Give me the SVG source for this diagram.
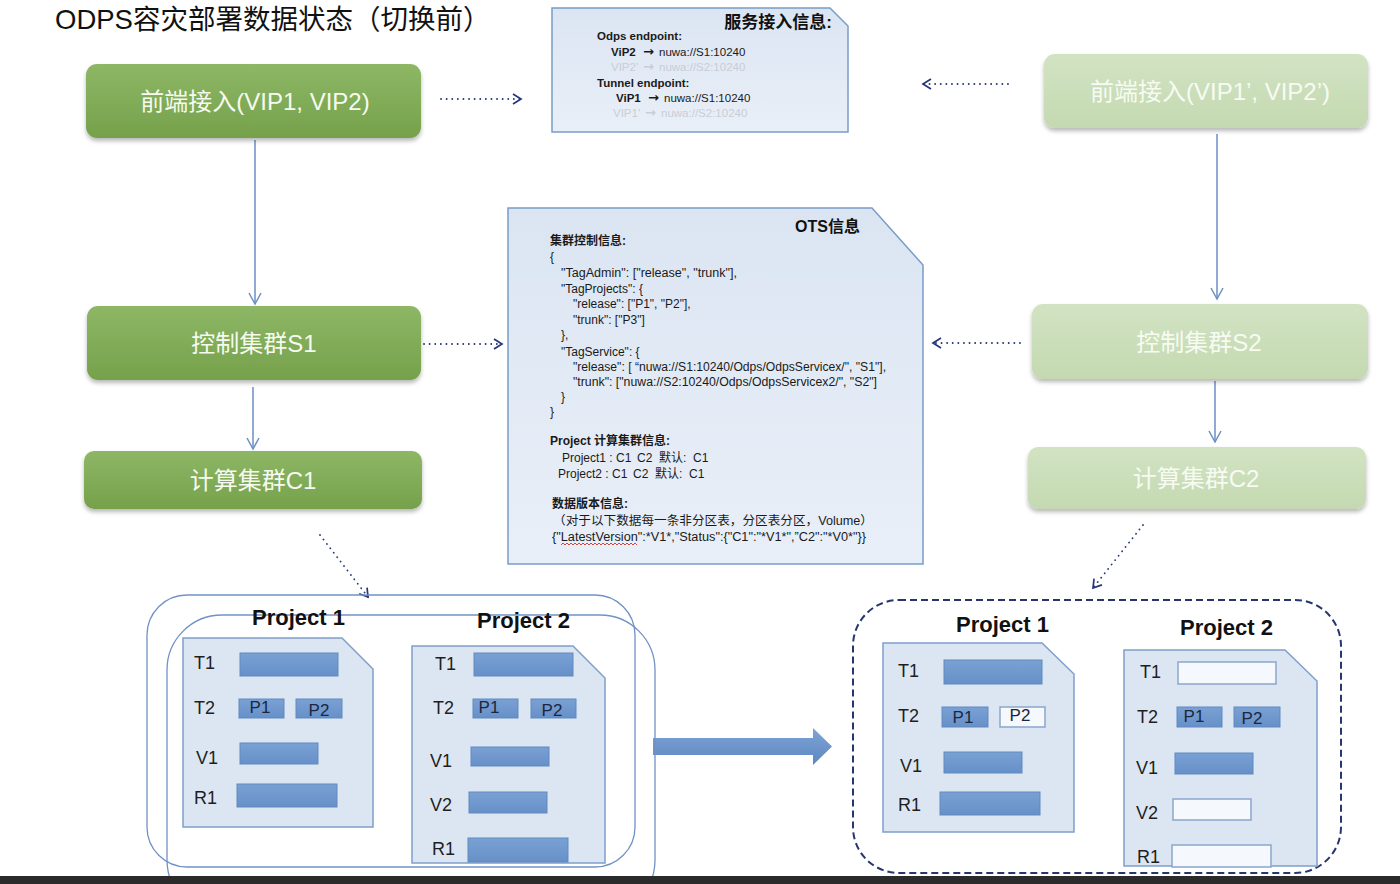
<svg xmlns="http://www.w3.org/2000/svg" width="1400" height="884" viewBox="0 0 1400 884">
<defs>
<style>
.t{font-family:"Liberation Sans","Noto Sans CJK SC",sans-serif}
.title{font-size:27.5px;fill:#111}
.nd{font-size:24px;fill:#f6faf0;text-anchor:middle}
.ndl{font-size:24px;fill:#f7fbf2;text-anchor:middle}
.b{font-weight:bold}
.ar{font-family:"DejaVu Sans",sans-serif;font-size:13px;font-weight:bold}
.s11{font-size:11.5px;fill:#1a1a1a}
.faint{font-size:11.5px;fill:#c9cdd6}
.j{font-size:12px;fill:#1a1a1a}
.lbl{font-size:18px;fill:#1e1e1e}
.pl{font-size:17px;fill:#1b2740;text-anchor:middle}
.pj{font-size:22px;font-weight:bold;fill:#111}
.doc{fill:#dce6f2;stroke:#7f9fca;stroke-width:1.5}
.bar{fill:url(#gBar);stroke:#6089bf;stroke-width:1}
.empty{fill:#f5f8fc;stroke:#8aa6cc;stroke-width:1.5}
.solid{stroke:#6b8fc4;stroke-width:1.5;fill:none}
.dot{stroke:#26357a;stroke-width:1.8;fill:none;stroke-dasharray:0.1 5.5;stroke-linecap:round}
</style>
<linearGradient id="gGreen" x1="0" y1="0" x2="0" y2="1"><stop offset="0" stop-color="#8db765"/><stop offset="1" stop-color="#76a14b"/></linearGradient>
<linearGradient id="gPale" x1="0" y1="0" x2="0" y2="1"><stop offset="0" stop-color="#d2e3c3"/><stop offset="1" stop-color="#c4d9b1"/></linearGradient>
<linearGradient id="gBox" x1="0" y1="0" x2="0" y2="1"><stop offset="0" stop-color="#dbe5f2"/><stop offset="1" stop-color="#e9eff8"/></linearGradient>
<linearGradient id="gBar" x1="0" y1="0" x2="0" y2="1"><stop offset="0" stop-color="#7aa1d4"/><stop offset="1" stop-color="#6690c8"/></linearGradient>
<linearGradient id="gArrow" x1="0" y1="0" x2="0" y2="1"><stop offset="0" stop-color="#7ea4d6"/><stop offset="1" stop-color="#5d87c1"/></linearGradient>
<filter id="sh" x="-5%" y="-10%" width="110%" height="130%"><feDropShadow dx="0" dy="3" stdDeviation="2" flood-color="#000" flood-opacity="0.28"/></filter>
<marker id="mSolid" viewBox="-12 -7 14 14" refX="0" refY="0" markerWidth="14" markerHeight="14" markerUnits="userSpaceOnUse" orient="auto"><path d="M-11,-6 L0,0 L-11,6" fill="none" stroke="#6b8fc4" stroke-width="1.5"/></marker>
<marker id="mDot" viewBox="-10 -6 12 12" refX="0" refY="0" markerWidth="12" markerHeight="12" markerUnits="userSpaceOnUse" orient="auto"><path d="M-8,-5 L0,0 L-8,5" fill="none" stroke="#26357a" stroke-width="1.7"/></marker>
</defs>
<rect x="0" y="0" width="1400" height="884" fill="#ffffff"/>
<text class="t title" x="55" y="29">ODPS容灾部署数据状态（切换前）</text>

<g id="connectors">
<line class="solid" x1="255" y1="140" x2="255" y2="304" marker-end="url(#mSolid)"/>
<line class="solid" x1="253" y1="387" x2="253" y2="449" marker-end="url(#mSolid)"/>
<line class="solid" x1="1217" y1="134" x2="1217" y2="299" marker-end="url(#mSolid)"/>
<line class="solid" x1="1215" y1="381" x2="1215" y2="442" marker-end="url(#mSolid)"/>
<line class="dot" x1="441" y1="99" x2="521" y2="99" marker-end="url(#mDot)"/>
<line class="dot" x1="424" y1="344" x2="502" y2="344" marker-end="url(#mDot)"/>
<line class="dot" x1="1008" y1="84" x2="923" y2="84" marker-end="url(#mDot)"/>
<line class="dot" x1="1020" y1="343" x2="933" y2="343" marker-end="url(#mDot)"/>
<line class="dot" x1="320" y1="535" x2="368" y2="597" marker-end="url(#mDot)"/>
<line class="dot" x1="1143" y1="525" x2="1093" y2="588" marker-end="url(#mDot)"/>
<path d="M653,738 L813,738 L813,728 L832,746.5 L813,765 L813,755 L653,755 Z" fill="url(#gArrow)"/>
</g>

<g id="node-fe1">
<rect x="86" y="64" width="335" height="74" rx="11" fill="url(#gGreen)" filter="url(#sh)"/>
<text class="t nd" x="255" y="110">前端接入(VIP1, VIP2)</text>
</g>
<g id="node-s1">
<rect x="87" y="306" width="334" height="74" rx="11" fill="url(#gGreen)" filter="url(#sh)"/>
<text class="t nd" x="254" y="352">控制集群S1</text>
</g>
<g id="node-c1">
<rect x="84" y="451" width="338" height="58" rx="10" fill="url(#gGreen)" filter="url(#sh)"/>
<text class="t nd" x="253" y="489">计算集群C1</text>
</g>
<g id="node-fe2">
<rect x="1044" y="54" width="324" height="74" rx="11" fill="url(#gPale)" filter="url(#sh)"/>
<text class="t ndl" x="1210" y="100">前端接入(VIP1’, VIP2’)</text>
</g>
<g id="node-s2">
<rect x="1032" y="304" width="336" height="75" rx="11" fill="url(#gPale)" filter="url(#sh)"/>
<text class="t ndl" x="1199" y="351">控制集群S2</text>
</g>
<g id="node-c2">
<rect x="1028" y="447" width="338" height="62" rx="10" fill="url(#gPale)" filter="url(#sh)"/>
<text class="t ndl" x="1196" y="487">计算集群C2</text>
</g>

<g id="node-service">
<polygon points="552,8 830,8 848,26 848,132 552,132" fill="url(#gBox)" stroke="#7a9cc8" stroke-width="1.5"/>
<text class="t b" x="832" y="28" font-size="17" fill="#111" text-anchor="end">服务接入信息:</text>
<text class="t s11 b" x="597" y="40">Odps endpoint:</text>
<text class="t s11" x="611" y="56"><tspan class="b">ViP2</tspan><tspan class="ar" x="643">→</tspan><tspan x="659">nuwa://S1:10240</tspan></text>
<text class="t faint" x="611" y="71">VIP2’<tspan class="ar" x="643" font-weight="normal">→</tspan><tspan x="659">nuwa://S2:10240</tspan></text>
<text class="t s11 b" x="597" y="87">Tunnel endpoint:</text>
<text class="t s11" x="616" y="102"><tspan class="b">ViP1</tspan><tspan class="ar" x="648">→</tspan><tspan x="664">nuwa://S1:10240</tspan></text>
<text class="t faint" x="613" y="117">VIP1’<tspan class="ar" x="645" font-weight="normal">→</tspan><tspan x="661">nuwa://S2:10240</tspan></text>
</g>

<g id="node-ots">
<polygon points="508,208 872,208 923,265 923,564 508,564" fill="url(#gBox)" stroke="#7a9cc8" stroke-width="1.5"/>
<text class="t b" x="795" y="232" font-size="16" fill="#111">OTS信息</text>
<text class="t j b" x="550" y="245">集群控制信息:</text>
<text class="t j" x="550" y="261">{</text>
<text class="t j" x="561" y="277" textLength="176" lengthAdjust="spacingAndGlyphs">"TagAdmin": ["release", "trunk"],</text>
<text class="t j" x="561" y="293">"TagProjects": {</text>
<text class="t j" x="573" y="308">"release": ["P1", "P2"],</text>
<text class="t j" x="573" y="324">"trunk": ["P3"]</text>
<text class="t j" x="561" y="339">},</text>
<text class="t j" x="561" y="356">"TagService": {</text>
<text class="t j" x="573" y="371" textLength="313" lengthAdjust="spacingAndGlyphs">"release": [ “nuwa://S1:10240/Odps/OdpsServicex/", "S1"],</text>
<text class="t j" x="573" y="386" textLength="304" lengthAdjust="spacingAndGlyphs">"trunk": ["nuwa://S2:10240/Odps/OdpsServicex2/", "S2"]</text>
<text class="t j" x="561" y="401">}</text>
<text class="t j" x="550" y="416">}</text>
<text class="t j b" x="550" y="445">Project 计算集群信息:</text>
<text class="t j" x="562" y="462">Project1 : C1<tspan x="637">C2</tspan><tspan x="659">默认:</tspan><tspan x="693">C1</tspan></text>
<text class="t j" x="558" y="478">Project2 : C1<tspan x="633">C2</tspan><tspan x="655">默认:</tspan><tspan x="689">C1</tspan></text>
<text class="t j b" x="552" y="508">数据版本信息:</text>
<text class="t j" x="553" y="525" textLength="320" lengthAdjust="spacingAndGlyphs">（对于以下数据每一条非分区表，分区表分区，Volume）</text>
<text class="t j" x="552" y="541" textLength="314" lengthAdjust="spacingAndGlyphs">{"LatestVersion":*V1*,"Status":{"C1":"*V1*",”C2":"*V0*"}}</text>
<path d="M561,545 l2,-2 l2,2 l2,-2 l2,2 l2,-2 l2,2 l2,-2 l2,2 l2,-2 l2,2 l2,-2 l2,2 l2,-2 l2,2 l2,-2 l2,2 l2,-2 l2,2 l2,-2 l2,2 l2,-2 l2,2 l2,-2 l2,2 l2,-2 l2,2 l2,-2 l2,2 l2,-2 l2,2 l2,-2 l2,2 l2,-2 l2,2 l2,-2 l2,2 l2,-2 l2,2" fill="none" stroke="#d9423a" stroke-width="1"/>
</g>

<g id="group-before">
<rect x="147" y="595" width="488" height="272" rx="40" fill="none" stroke="#7192c4" stroke-width="1.3"/>
<rect x="167" y="615" width="488" height="300" rx="55" fill="none" stroke="#7192c4" stroke-width="1.3"/>
</g>

<g id="left-project1">
<text class="t pj" x="252" y="625">Project 1</text>
<polygon class="doc" points="183,638 342,638 373,669 373,827 183,827"/>
<text class="t lbl" x="194" y="669">T1</text>
<rect class="bar" x="240" y="653" width="98" height="23"/>
<text class="t lbl" x="194" y="714">T2</text>
<rect class="bar" x="239" y="699" width="45" height="19"/>
<text class="t pl" x="260" y="713">P1</text>
<rect class="bar" x="296" y="699" width="46" height="19"/>
<text class="t pl" x="319" y="716">P2</text>
<text class="t lbl" x="196" y="764">V1</text>
<rect class="bar" x="240" y="743" width="78" height="21"/>
<text class="t lbl" x="194" y="804">R1</text>
<rect class="bar" x="237" y="784" width="100" height="23"/>
</g>

<g id="left-project2">
<text class="t pj" x="477" y="628">Project 2</text>
<polygon class="doc" points="412,646 573,646 605,678 605,863 412,863"/>
<text class="t lbl" x="435" y="670">T1</text>
<rect class="bar" x="474" y="653" width="99" height="23"/>
<text class="t lbl" x="433" y="714">T2</text>
<rect class="bar" x="473" y="699" width="45" height="19"/>
<text class="t pl" x="489" y="713">P1</text>
<rect class="bar" x="531" y="699" width="45" height="19"/>
<text class="t pl" x="552" y="716">P2</text>
<text class="t lbl" x="430" y="767">V1</text>
<rect class="bar" x="471" y="747" width="78" height="19"/>
<text class="t lbl" x="430" y="811">V2</text>
<rect class="bar" x="469" y="792" width="78" height="21"/>
<text class="t lbl" x="432" y="855">R1</text>
<rect class="bar" x="468" y="838" width="100" height="24"/>
</g>

<g id="group-after">
<rect x="853" y="600" width="488" height="273" rx="46" fill="none" stroke="#26366e" stroke-width="2" stroke-dasharray="7 4"/>
</g>

<g id="right-project1">
<text class="t pj" x="956" y="632">Project 1</text>
<polygon class="doc" points="883,643 1042,643 1074,674 1074,832 883,832"/>
<text class="t lbl" x="898" y="677">T1</text>
<rect class="bar" x="944" y="660" width="98" height="24"/>
<text class="t lbl" x="898" y="722">T2</text>
<rect class="bar" x="942" y="707" width="46" height="20"/>
<text class="t pl" x="963" y="723">P1</text>
<rect class="empty" x="1000" y="707" width="45" height="20"/>
<text class="t pl" x="1020" y="721">P2</text>
<text class="t lbl" x="900" y="772">V1</text>
<rect class="bar" x="944" y="752" width="78" height="21"/>
<text class="t lbl" x="898" y="811">R1</text>
<rect class="bar" x="940" y="792" width="100" height="23"/>
</g>

<g id="right-project2">
<text class="t pj" x="1180" y="635">Project 2</text>
<polygon class="doc" points="1124,650 1285,650 1317,681 1317,866 1124,866"/>
<text class="t lbl" x="1140" y="678">T1</text>
<rect class="empty" x="1178" y="662" width="98" height="22"/>
<text class="t lbl" x="1137" y="723">T2</text>
<rect class="bar" x="1177" y="707" width="45" height="20"/>
<text class="t pl" x="1194" y="722">P1</text>
<rect class="bar" x="1234" y="707" width="46" height="20"/>
<text class="t pl" x="1252" y="724">P2</text>
<text class="t lbl" x="1136" y="774">V1</text>
<rect class="bar" x="1175" y="753" width="78" height="21"/>
<text class="t lbl" x="1136" y="819">V2</text>
<rect class="empty" x="1173" y="799" width="78" height="21"/>
<text class="t lbl" x="1137" y="863">R1</text>
<rect class="empty" x="1172" y="845" width="99" height="22"/>
</g>

<rect x="0" y="876" width="1400" height="8" fill="#2b2b2b"/>
</svg>
